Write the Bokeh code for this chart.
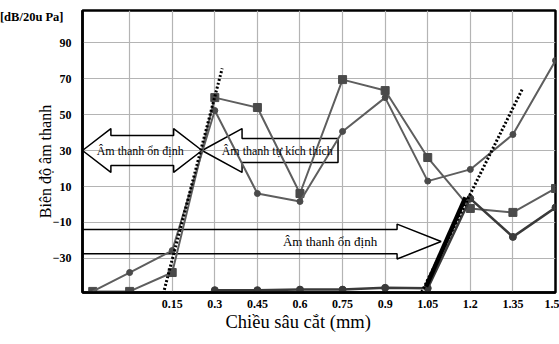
from bokeh.plotting import figure
from bokeh.models import FixedTicker, Label, Arrow, Range1d, LinearAxis, Title
from bokeh.embed import file_html
from bokeh.resources import INLINE

# ---------------- data ----------------
x_ticks = [0, 0.15, 0.3, 0.45, 0.6, 0.75, 0.9, 1.05, 1.2, 1.35, 1.5]
x_tick_labels = ["", "0.15", "0.3", "0.45", "0.6", "0.75", "0.9", "1.05", "1.2", "1.35", "1.5"]
y_ticks = [-30, -10, 10, 30, 50, 70, 90]
unit_tick = [104]

# series with square markers
sq_x = [-0.13, 0.0, 0.15, 0.3, 0.45, 0.6, 0.75, 0.9, 1.05, 1.2, 1.35, 1.5]
sq_y = [-48.3, -48.3, -37.8, 59.4, 53.9, 6.1, 69.4, 63.3, 26.1, -2.2, -4.4, 8.9]

# series with circle markers (starts low on the left)
c1_x = [-0.13, 0.0, 0.15, 0.3, 0.45, 0.6, 0.75, 0.9, 1.05, 1.2, 1.35, 1.5]
c1_y = [-48.3, -37.8, -25.6, 52.2, 6.1, 1.7, 40.6, 59.4, 13.0, 19.5, 38.9, 80.0]

# series with circle markers (flat at the bottom, jumps after 1.05)
c2_x = [0.3, 0.45, 0.6, 0.75, 0.9, 1.05, 1.2, 1.35, 1.5]
c2_y = [-47.6, -47.6, -47.3, -47.3, -46.3, -46.5, 3.3, -18.0, -1.7]

# dotted tangent lines and thick part
tan1_x = [0.115, 0.326]
tan1_y = [-51.7, 75.6]
tan2_x = [0.991, 1.384]
tan2_y = [-60.6, 64.4]
thick_x = [1.044, 1.183]
thick_y = [-45.6, 4.0]

# texts
y_unit = "[dB/20u Pa]"
y_title = "Biên độ âm thanh"
x_title = "Chiều sâu cắt (mm)"
txt_stable = "Âm thanh ổn định"
txt_self = "Âm thanh tự kích thích"

X_RANGE = (-0.166, 1.5)
Y_RANGE = (-48.9, 107.8)

SERIF = "Liberation Serif"
NBSP = "\u00a0"

p = figure(width=559, height=344, output_backend="svg", toolbar_location=None,
           x_range=Range1d(*X_RANGE), y_range=Range1d(*Y_RANGE),
           min_border_left=82, min_border_right=4, min_border_top=10, min_border_bottom=52)
p.background_fill_color = "white"
p.border_fill_color = "white"
p.outline_line_color = "black"
p.outline_line_width = 2.5

# axes
p.xaxis.ticker = FixedTicker(ticks=x_ticks)
p.xaxis.major_label_overrides = {t: l for t, l in zip(x_ticks, x_tick_labels)}
p.yaxis.ticker = FixedTicker(ticks=y_ticks)
for ax in (p.xaxis, p.yaxis):
    ax.axis_line_color = "black"
    ax.axis_line_width = 2.5
    ax.major_tick_line_color = None
    ax.minor_tick_line_color = None
    ax.major_label_text_font = SERIF
    ax.major_label_text_font_style = "bold"
    ax.major_label_text_font_size = "12px"
    ax.major_label_text_color = "black"
p.xaxis.major_label_standoff = 1
p.yaxis.major_label_standoff = 5

# outer left axis: unit text as its only tick label, y title as its axis label
unit_axis = LinearAxis(ticker=FixedTicker(ticks=unit_tick),
                       major_label_overrides={unit_tick[0]: y_unit},
                       axis_line_color=None, major_tick_line_color=None,
                       minor_tick_line_color=None,
                       major_label_text_font=SERIF, major_label_text_font_style="bold",
                       major_label_text_font_size="12.5px", major_label_text_color="black",
                       major_label_standoff=-20,
                       axis_label=y_title + NBSP * 5, axis_label_text_font=SERIF,
                       axis_label_text_font_style="normal", axis_label_text_font_size="16px",
                       axis_label_text_color="black", axis_label_standoff=-57)
p.add_layout(unit_axis, "left")

p.add_layout(Title(text=x_title, align="left", offset=143, text_font=SERIF,
                   text_font_size="18.5px", text_font_style="normal", text_color="black",
                   standoff=-2), "below")

p.xgrid.ticker = FixedTicker(ticks=x_ticks)
p.ygrid.ticker = FixedTicker(ticks=y_ticks)
p.grid.grid_line_color = "#b4b4b4"
p.grid.grid_line_width = 1.2

# ------------- block arrows (outlines) -------------
def double_arrow(x0, x1, y, body, head_len, head):
    xs = [x0, x0 + head_len, x0 + head_len, x1 - head_len, x1 - head_len, x1,
          x1 - head_len, x1 - head_len, x0 + head_len, x0 + head_len, x0]
    ys = [y, y + head, y + body, y + body, y + head, y,
          y - head, y - body, y - body, y - head, y]
    return xs, ys

def left_arrow(tip, base, end, y, body, head):
    xs = [tip, base, base, end, end, base, base, tip]
    ys = [y, y + head, y + body, y + body, y - body, y - body, y - head, y]
    return xs, ys

def right_arrow(start, base, tip, y, body, head):
    xs = [start, base, base, tip, base, base, start]
    ys = [y + body, y + body, y + head, y, y - head, y - body, y - body]
    return xs, ys

ax1, ay1 = double_arrow(-0.166, 0.255, 30, 8.3, 0.1, 12.2)
p.line(ax1, ay1, line_color="black", line_width=1.5)
ax2, ay2 = left_arrow(0.255, 0.396, 0.734, 30, 6.7, 12.2)
p.line(ax2, ay2, line_color="black", line_width=1.5)
ax3, ay3 = right_arrow(-0.166, 0.942, 1.097, -20.6, 6.7, 9.7)
p.line(ax3, ay3, line_color="black", line_width=1.5)

# ------------- data series -------------
LINE = "#5e5e5e"
MARK = "#4a4a4a"
p.line(sq_x, sq_y, line_color=LINE, line_width=2)
p.scatter(sq_x, sq_y, marker="square", size=8, fill_color=MARK, line_color=MARK)
p.line(c1_x, c1_y, line_color=LINE, line_width=2)
p.scatter(c1_x[1:], c1_y[1:], marker="circle", size=6, fill_color=MARK, line_color=MARK)
p.line(c2_x, c2_y, line_color="#3a3a3a", line_width=2.5)
p.scatter(c2_x, c2_y, marker="circle", size=7, fill_color="#3a3a3a", line_color="#3a3a3a")

# thick solid and dotted tangents
p.line(thick_x, thick_y, line_color="black", line_width=4.5)
for tx, ty in ((tan1_x, tan1_y), (tan2_x, tan2_y)):
    p.add_layout(Arrow(end=None, x_start=tx[0], y_start=ty[0], x_end=tx[1], y_end=ty[1],
                       line_color="black", line_width=3, line_dash="2 2"))

# ------------- texts inside the frame -------------
def lab(x, y, text, size):
    p.add_layout(Label(x=x, y=y, text=text, text_font=SERIF, text_font_size=size,
                       text_align="center", text_baseline="middle", text_color="black"))

lab(0.037, 30, txt_stable, "12px")
lab(0.52, 30, txt_self, "12px")
lab(0.706, -20.3, txt_stable, "13px")

open("out.html", "w").write(file_html(p, INLINE))
